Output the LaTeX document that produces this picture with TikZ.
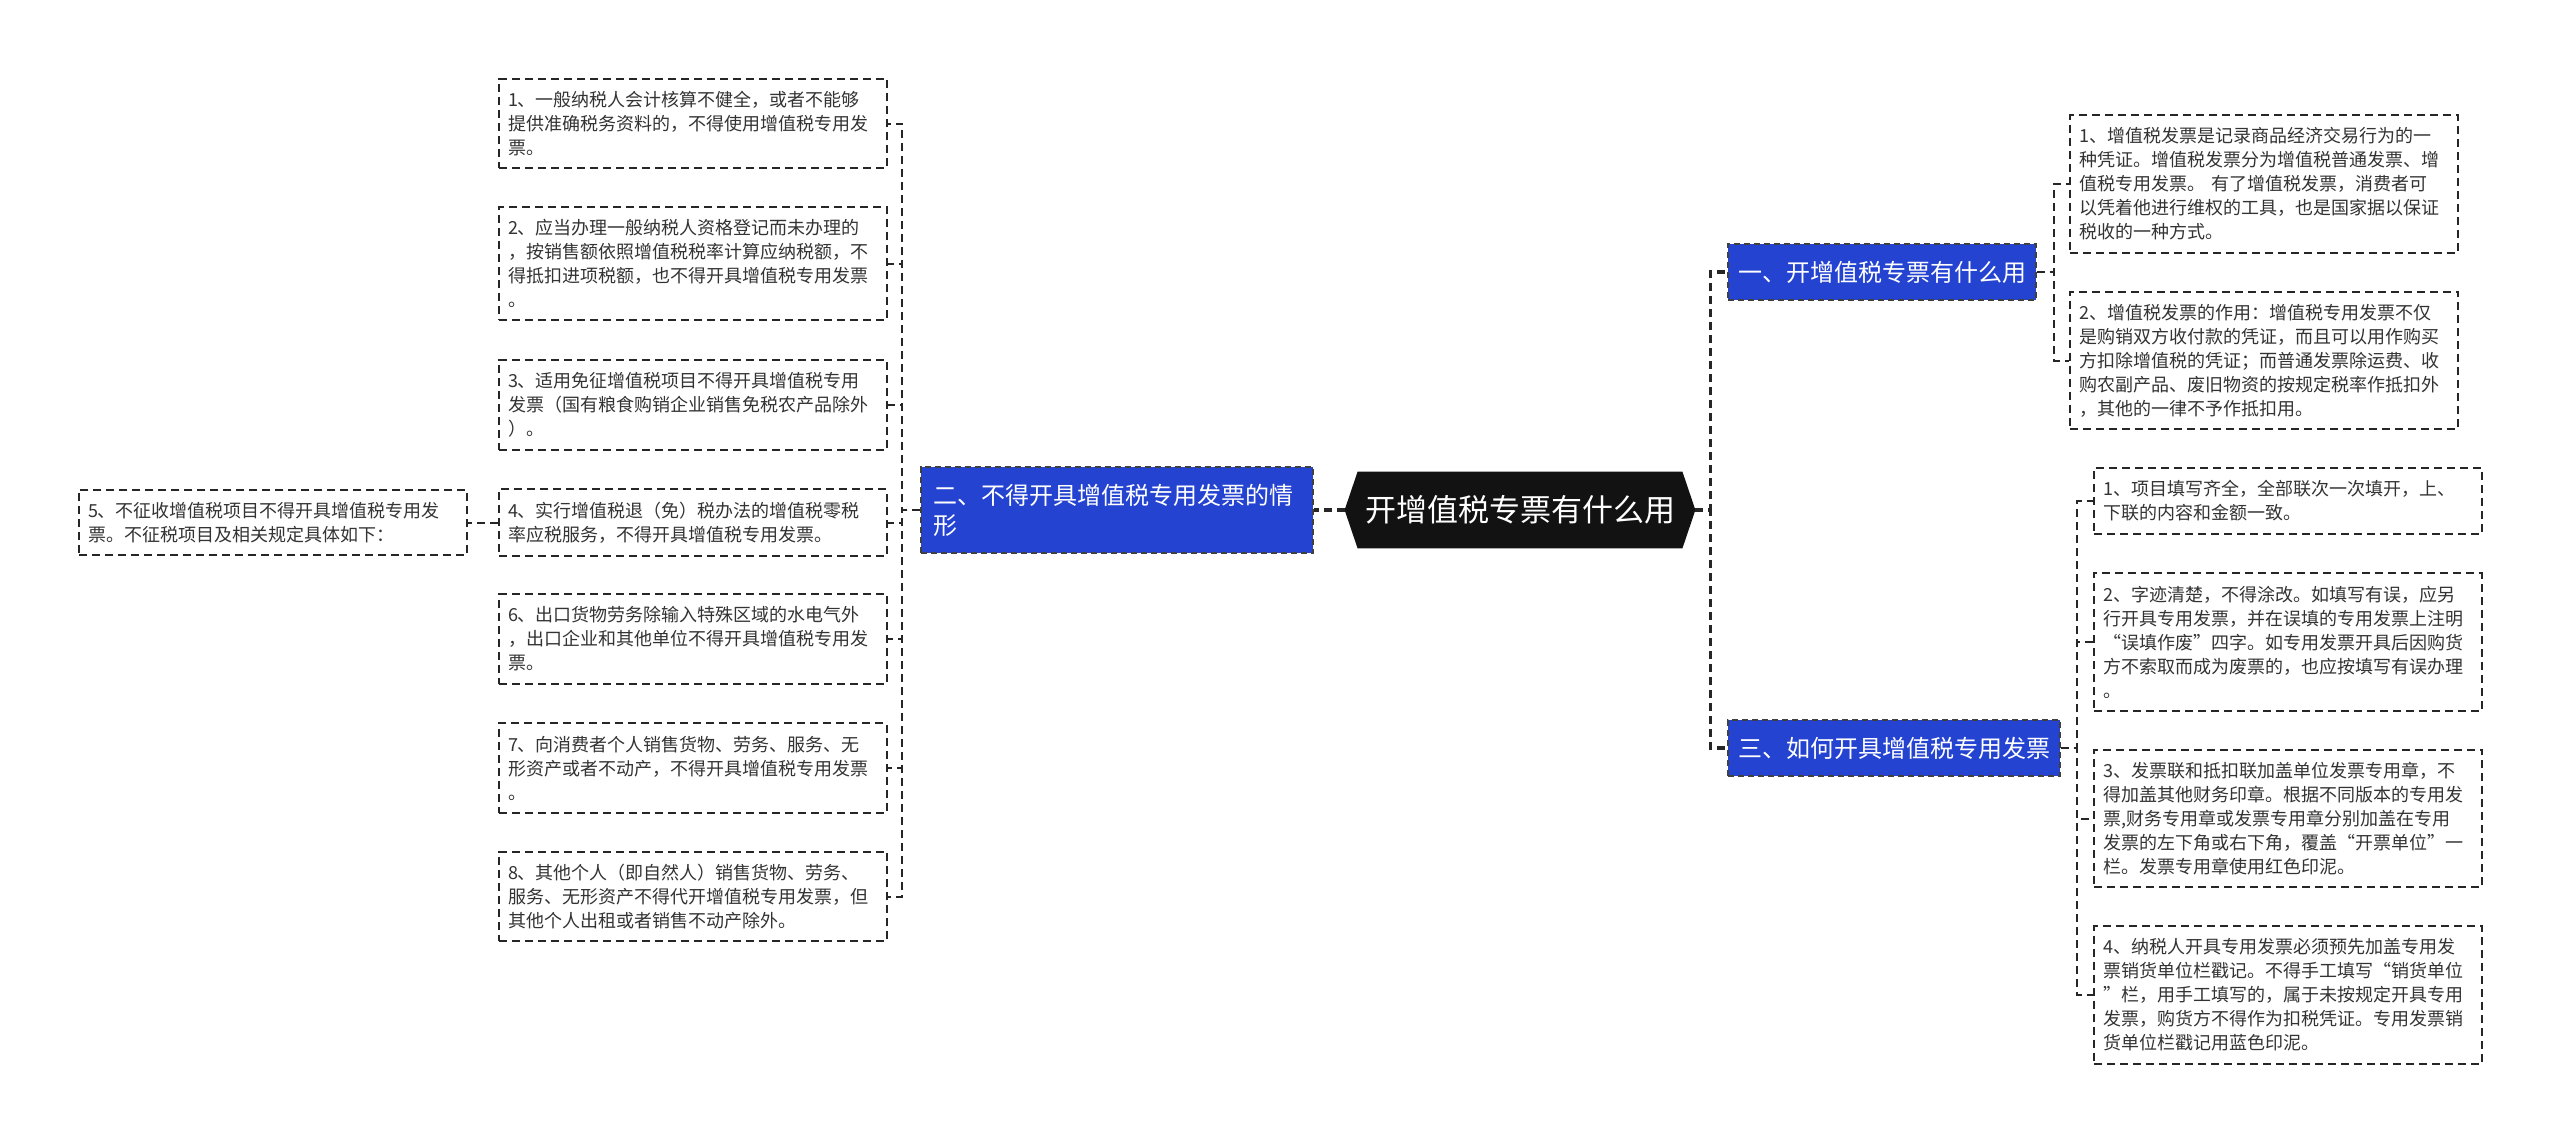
\documentclass[tikz,border=0pt]{standalone}
\usepackage{fontspec}
\setmainfont{Noto Sans CJK SC}
\usepackage{xcolor}
\usetikzlibrary{backgrounds}
\definecolor{brblue}{HTML}{2443D1}
\definecolor{leafgray}{HTML}{333333}

\begin{document}
\begin{tikzpicture}[
  x=0.5pt, y=-0.5pt,
  every node/.style={font=\fontsize{9}{12}\selectfont},
  leafbox/.style={draw=black!85, line width=1pt, dash pattern=on 4pt off 2.5pt,
                  text=leafgray, text width=185pt, align=left,
                  inner xsep=4.5pt, inner ysep=6.2pt},
  branchbox/.style={fill=brblue, draw=black!75, line width=0.8pt,
                    dash pattern=on 3pt off 2pt, text=white,
                    font=\fontsize{12}{15}\selectfont,
                    inner xsep=5pt, minimum height=28pt},
  topicbox/.style={text=white, font=\fontsize{15.5}{18}\selectfont,
                   minimum width=175pt, minimum height=38pt, inner sep=0pt},
  link/.style={draw=black!85, line width=1pt, dash pattern=on 4pt off 2.5pt},
  mainlink/.style={link, line width=1.6pt}
]
\useasboundingbox (0,0) rectangle (2560,1142);

%% centre topic
\node[topicbox] (topic) at (1520,510) {开增值税专票有什么用};

%% branches
\node[branchbox, text width=184pt, align=left, inner xsep=6pt, inner ysep=8.5pt]
  (b2) at (1117,510) {二、不得开具增值税专用发票的情\\形};
\node[branchbox] (b1) at (1882,272) {一、开增值税专票有什么用};
\node[branchbox] (b3) at (1894,748) {三、如何开具增值税专用发票};

%% left leaves
\node[leafbox] (l1) at (693,123.5) {1、一般纳税人会计核算不健全，或者不能够\\提供准确税务资料的，不得使用增值税专用发\\票。};
\node[leafbox] (l2) at (693,263.5) {2、应当办理一般纳税人资格登记而未办理的\\，按销售额依照增值税税率计算应纳税额，不\\得抵扣进项税额，也不得开具增值税专用发票\\。};
\node[leafbox] (l3) at (693,405) {3、适用免征增值税项目不得开具增值税专用\\发票（国有粮食购销企业销售免税农产品除外\\）。};
\node[leafbox] (l4) at (693,522.5) {4、实行增值税退（免）税办法的增值税零税\\率应税服务，不得开具增值税专用发票。};
\node[leafbox] (l5) at (273,522.5) {5、不征收增值税项目不得开具增值税专用发\\票。不征税项目及相关规定具体如下：};
\node[leafbox] (l6) at (693,639) {6、出口货物劳务除输入特殊区域的水电气外\\，出口企业和其他单位不得开具增值税专用发\\票。};
\node[leafbox] (l7) at (693,768) {7、向消费者个人销售货物、劳务、服务、无\\形资产或者不动产，不得开具增值税专用发票\\。};
\node[leafbox] (l8) at (693,896.5) {8、其他个人（即自然人）销售货物、劳务、\\服务、无形资产不得代开增值税专用发票，但\\其他个人出租或者销售不动产除外。};

%% right leaves
\node[leafbox] (r1) at (2264,184) {1、增值税发票是记录商品经济交易行为的一\\种凭证。增值税发票分为增值税普通发票、增\\值税专用发票。 有了增值税发票，消费者可\\以凭着他进行维权的工具，也是国家据以保证\\税收的一种方式。};
\node[leafbox] (r2) at (2264,360.5) {2、增值税发票的作用：增值税专用发票不仅\\是购销双方收付款的凭证，而且可以用作购买\\方扣除增值税的凭证；而普通发票除运费、收\\购农副产品、废旧物资的按规定税率作抵扣外\\，其他的一律不予作抵扣用。};
\node[leafbox] (r3) at (2288,501) {1、项目填写齐全，全部联次一次填开，上、\\下联的内容和金额一致。};
\node[leafbox] (r4) at (2288,642) {2、字迹清楚，不得涂改。如填写有误，应另\\行开具专用发票，并在误填的专用发票上注明\\“误填作废”四字。如专用发票开具后因购货\\方不索取而成为废票的，也应按填写有误办理\\。};
\node[leafbox] (r5) at (2288,818.5) {3、发票联和抵扣联加盖单位发票专用章，不\\得加盖其他财务印章。根据不同版本的专用发\\票,财务专用章或发票专用章分别加盖在专用\\发票的左下角或右下角，覆盖“开票单位”一\\栏。发票专用章使用红色印泥。};
\node[leafbox] (r6) at (2288,995) {4、纳税人开具专用发票必须预先加盖专用发\\票销货单位栏戳记。不得手工填写“销货单位\\”栏，用手工填写的，属于未按规定开具专用\\发票，购货方不得作为扣税凭证。专用发票销\\货单位栏戳记用蓝色印泥。};

%% white page and hexagon behind the topic
\begin{scope}[on background layer]
  \fill[white] (0,0) rectangle (2560,1142);
  \fill[black!93] (topic.west) -- ([xshift=6.5pt]topic.north west)
    -- ([xshift=-6.5pt]topic.north east) -- (topic.east)
    -- ([xshift=-6.5pt]topic.south east) -- ([xshift=6.5pt]topic.south west) -- cycle;
\end{scope}

%% links
\draw[mainlink] (topic.west) -- (b2.east);
\foreach \b in {b1,b3}
  \draw[mainlink] (topic.east) -- ++(15,0) |- (\b.west);
\foreach \l in {l1,l2,l3,l4,l6,l7,l8}
  \draw[link] (b2.west) -- ++(-18,0) |- (\l.east);
\draw[link] (l4.west) -- ++(-15,0) |- (l5.east);
\foreach \r in {r1,r2}
  \draw[link] (b1.east) -- ++(17,0) |- (\r.west);
\foreach \r in {r3,r4,r5,r6}
  \draw[link] (b3.east) -- ++(16,0) |- (\r.west);
\end{tikzpicture}
\end{document}
